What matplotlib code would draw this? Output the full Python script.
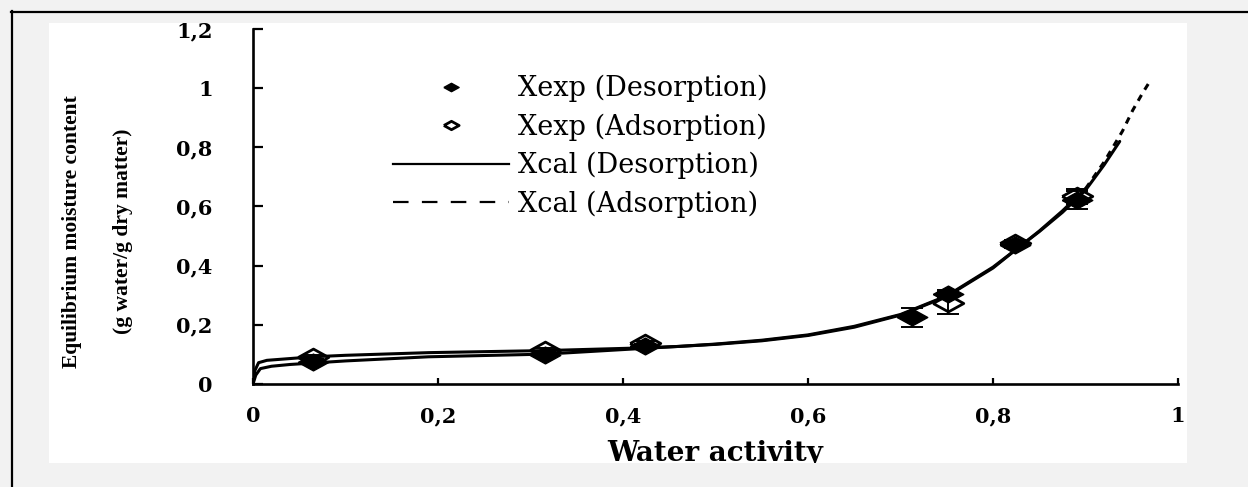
import matplotlib
matplotlib.use('Agg')
import matplotlib.pyplot as plt
from matplotlib.lines import Line2D
from matplotlib.patches import Rectangle
import numpy as np

# ---------------- data ----------------
aw_des = [0.065, 0.316, 0.424, 0.712, 0.751, 0.824, 0.891]
x_des = [0.074, 0.098, 0.128, 0.226, 0.305, 0.470, 0.622]
err_des = [0.006, 0.006, 0.006, 0.032, 0.012, 0.010, 0.030]

aw_ads = [0.065, 0.316, 0.424, 0.751, 0.824, 0.891]
x_ads = [0.091, 0.115, 0.139, 0.274, 0.477, 0.635]
err_ads = [0.006, 0.006, 0.006, 0.037, 0.010, 0.025]

cal_aw_des = [0, 0.003, 0.008, 0.02, 0.04, 0.065, 0.1, 0.19, 0.316, 0.42, 0.46, 0.5,
              0.55, 0.6, 0.65, 0.7, 0.75, 0.8, 0.825, 0.85, 0.875, 0.9, 0.92, 0.937]
cal_x_des = [0, 0.03, 0.052, 0.060, 0.066, 0.071, 0.078, 0.092, 0.101, 0.120, 0.127, 0.135,
             0.148, 0.166, 0.195, 0.235, 0.298, 0.395, 0.455, 0.515, 0.58, 0.655, 0.74, 0.82]

cal_aw_ads = [0, 0.002, 0.006, 0.015, 0.04, 0.065, 0.1, 0.19, 0.316, 0.42, 0.46, 0.5,
              0.55, 0.6, 0.65, 0.7, 0.75, 0.8, 0.825, 0.85, 0.875, 0.9, 0.92, 0.94,
              0.951, 0.962, 0.971]
cal_x_ads = [0, 0.045, 0.072, 0.080, 0.086, 0.092, 0.097, 0.106, 0.113, 0.122, 0.127, 0.134,
             0.146, 0.164, 0.192, 0.233, 0.296, 0.392, 0.455, 0.517, 0.585, 0.66, 0.75, 0.855,
             0.925, 0.985, 1.03]

x_ticks = [0, 0.2, 0.4, 0.6, 0.8, 1.0]
x_tick_labels = ['0', '0,2', '0,4', '0,6', '0,8', '1']
y_ticks = [0, 0.2, 0.4, 0.6, 0.8, 1.0, 1.2]
y_tick_labels = ['0', '0,2', '0,4', '0,6', '0,8', '1', '1,2']

labels = ['Xexp (Desorption)', 'Xexp (Adsorption)', 'Xcal (Desorption)', 'Xcal (Adsorption)']

# ---------------- figure ----------------
W, H = 1248, 487
fig = plt.figure(figsize=(W / 100, H / 100), dpi=100, facecolor='#f2f2f2')


def fx(px):
    return px / W


def fy(py):
    return 1 - py / H


# white panel
fig.add_artist(Rectangle((fx(49), fy(463)), (1187 - 49) / W, (463 - 23) / H,
                         transform=fig.transFigure, facecolor='white',
                         edgecolor='none', zorder=-5))

ax = fig.add_axes([fx(253), fy(384), (1178 - 253) / W, (384 - 29) / H])
ax.set_facecolor('none')

serif = 'DejaVu Serif'
diamond = [(-1, 0), (0, 0.55), (1, 0), (0, -0.55), (-1, 0)]

# adsorption markers (open)
ax.plot(aw_ads, x_ads, ls='none', marker=diamond, ms=22, mfc='white', mec='black',
        mew=2.0, zorder=3)
ax.errorbar(aw_ads, x_ads, yerr=err_ads, fmt='none', ecolor='black', elinewidth=1.4,
            capsize=8, capthick=1.4, zorder=4)
# desorption markers (filled)
ax.errorbar(aw_des, x_des, yerr=err_des, fmt='none', ecolor='black', elinewidth=1.4,
            capsize=8, capthick=1.4, zorder=4)
ax.plot(aw_des, x_des, ls='none', marker=diamond, ms=22, mfc='black', mec='black',
        mew=1.0, zorder=5)

# calculated curves
ax.plot(cal_aw_des, cal_x_des, color='black', lw=2.2, zorder=6,
        solid_capstyle='round')
aw_a = np.array(cal_aw_ads)
x_a = np.array(cal_x_ads)
m1 = aw_a <= 0.9
m2 = aw_a >= 0.9
ax.plot(aw_a[m1], x_a[m1], color='black', lw=2.2, zorder=6)
ax.plot(aw_a[m2], x_a[m2], color='black', lw=2.2, zorder=6, dashes=(2.2, 2.0))

ax.set_xlim(0, 1.0)
ax.set_ylim(0, 1.2)
for s in ['top', 'right']:
    ax.spines[s].set_visible(False)
for s in ['left', 'bottom']:
    ax.spines[s].set_linewidth(1.9)
ax.set_xticks(x_ticks)
ax.set_xticklabels(x_tick_labels)
ax.set_yticks(y_ticks)
ax.set_yticklabels(y_tick_labels)
ax.tick_params(axis='y', direction='in', length=7.5, width=1.6, pad=29,
               labelsize=15)
ax.tick_params(axis='x', direction='in', length=4.5, width=1.6, pad=16,
               labelsize=15)
for t in ax.get_xticklabels() + ax.get_yticklabels():
    t.set_fontfamily(serif)
    t.set_fontweight('bold')

ax.set_xlabel('Water activity', fontfamily=serif, fontweight='bold', fontsize=20)
ax.xaxis.set_label_coords(0.5, (384 - 461) / (384 - 29))
ax.xaxis.label.set_va('baseline')

# y label (two lines)
fig.text(fx(72), fy(232), 'Equilibrium moisture content', rotation=90,
         ha='center', va='center', fontfamily='Liberation Serif', fontweight='bold',
         fontsize=15.5)
fig.text(fx(123), fy(231), '(g water/g dry matter)', rotation=90,
         ha='center', va='center', fontfamily='Liberation Serif', fontweight='bold',
         fontsize=15.5)

# legend
handles = [
    Line2D([], [], ls='none', marker=diamond, ms=11, mfc='black', mec='black', mew=1),
    Line2D([], [], ls='none', marker=diamond, ms=11, mfc='white', mec='black', mew=2),
    Line2D([], [], color='black', lw=1.6),
    Line2D([], [], color='black', lw=1.6, dashes=(7, 6)),
]
leg = ax.legend(handles, labels, loc='upper left',
                bbox_to_anchor=(fx(393), fy(75)), bbox_transform=fig.transFigure,
                frameon=False, borderpad=0, borderaxespad=0, handlelength=4.3,
                handletextpad=0.3, labelspacing=0.41,
                prop={'family': serif, 'size': 19.5})

# gray strip clipping the bottom of the panel, and black border lines
fig.add_artist(Rectangle((fx(12), 0), 1, fy(463), transform=fig.transFigure,
                         facecolor='#f2f2f2', edgecolor='none', zorder=10))
fig.add_artist(Line2D([fx(11), 1], [fy(11.5), fy(11.5)], transform=fig.transFigure,
                      color='black', lw=1.6, zorder=11))
fig.add_artist(Line2D([fx(11.5), fx(11.5)], [fy(11), 0], transform=fig.transFigure,
                      color='black', lw=1.6, zorder=11))

fig.savefig('out.png', dpi=100, facecolor=fig.get_facecolor())
